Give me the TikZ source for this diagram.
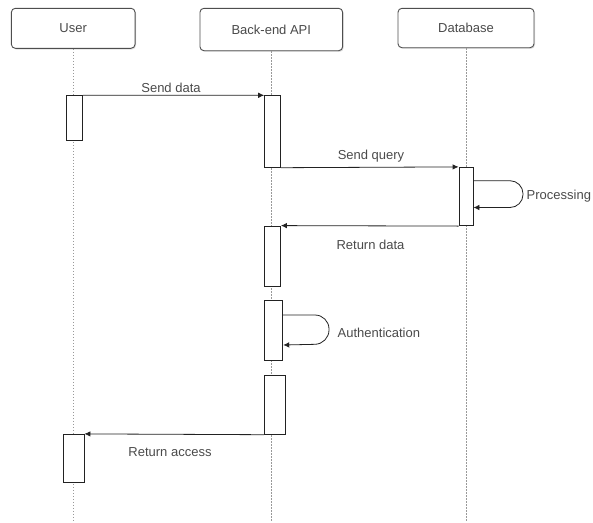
\documentclass[tikz,border=0pt]{standalone}
\usepackage{fontspec}
\setmainfont{Liberation Sans}
\usetikzlibrary{shadows,arrows.meta}
\definecolor{txt}{HTML}{4A4A4A}
\definecolor{ln}{HTML}{222222}
\tikzset{
  head/.style={draw=ln!80, line width=0.9pt, rounded corners=4pt, fill=white,
    drop shadow={opacity=0.25, shadow xshift=1pt, shadow yshift=-1.2pt},
    text=txt, font=\fontsize{13}{15}\selectfont, inner sep=0pt},
  act/.style={draw=ln, line width=0.8pt, fill=white, inner sep=0pt},
  life/.style={draw=gray!80, line width=0.9pt, dash pattern=on 1.5pt off 1.5pt},
  msg/.style={draw=ln, line width=0.8pt, -{Latex[length=6pt,width=5.5pt]}},
  lbl/.style={text=txt, font=\fontsize{13}{15}\selectfont, inner sep=0pt}
}
\begin{document}
\begin{tikzpicture}[x=1pt,y=-1pt]
\useasboundingbox (0,0) rectangle (593,522);
% heads
\node[head, minimum width=123.7pt, minimum height=40pt] (user) at (73.2,28.3) {User};
\node[head, minimum width=142.7pt, minimum height=42.4pt] (api) at (271.3,29.5) {Back-end API};
\node[head, minimum width=136pt, minimum height=39.4pt] (db) at (466,28) {Database};
% lifeline ends
\coordinate (userEnd) at (73.2,522);
\coordinate (apiEnd) at (271.3,522);
\coordinate (dbEnd) at (466,522);
\draw[life] (user.south) -- (userEnd);
\draw[life] (api.south) -- (apiEnd);
\draw[life] (db.south) -- (dbEnd);
% activations
\node[act, minimum width=16.4pt, minimum height=44.3pt] (u1) at (74.2,117.85) {};
\node[act, minimum width=15.9pt, minimum height=71.6pt] (b1) at (272.55,131.5) {};
\node[act, minimum width=14pt, minimum height=58.4pt] (d1) at (466,196.5) {};
\node[act, minimum width=15.9pt, minimum height=60.7pt] (b2) at (272.55,256.35) {};
\node[act, minimum width=18.2pt, minimum height=60pt] (b3) at (273.7,330) {};
\node[act, minimum width=20.8pt, minimum height=59.3pt] (b4) at (275,404.65) {};
\node[act, minimum width=20.7pt, minimum height=48pt] (u2) at (73.65,458.3) {};
% messages
\draw[msg] (u1.north east) -- (b1.north west);
\node[lbl] (l1) at (171,87.5) {Send data};
\draw[msg] (b1.south east) -- (d1.north west);
\node[lbl] (l2) at (371,156) {Send query};
\coordinate (p1) at (d1.east |- 0,180.7);
\coordinate (p2) at (d1.east |- 0,207.5);
\draw[msg, rounded corners=13pt] (p1) -- (523,180.7) -- (523,207.5) -- (p2);
\node[lbl, anchor=west] (l3) at (526.5,196.5) {Processing};
\draw[msg] (d1.south west) -- (b2.north east);
\node[lbl] (l4) at (370.5,244.5) {Return data};
\coordinate (p3) at (b3.east |- 0,315);
\coordinate (p4) at (b3.east |- 0,345);
\draw[msg, rounded corners=14pt] (p3) -- (329,315) -- (329,344) -- (p4);
\node[lbl, anchor=west] (l5) at (337.5,332.5) {Authentication};
\draw[msg] (b4.south west) -- (u2.north east);
\node[lbl] (l6) at (170,452.5) {Return access};
\end{tikzpicture}
\end{document}
